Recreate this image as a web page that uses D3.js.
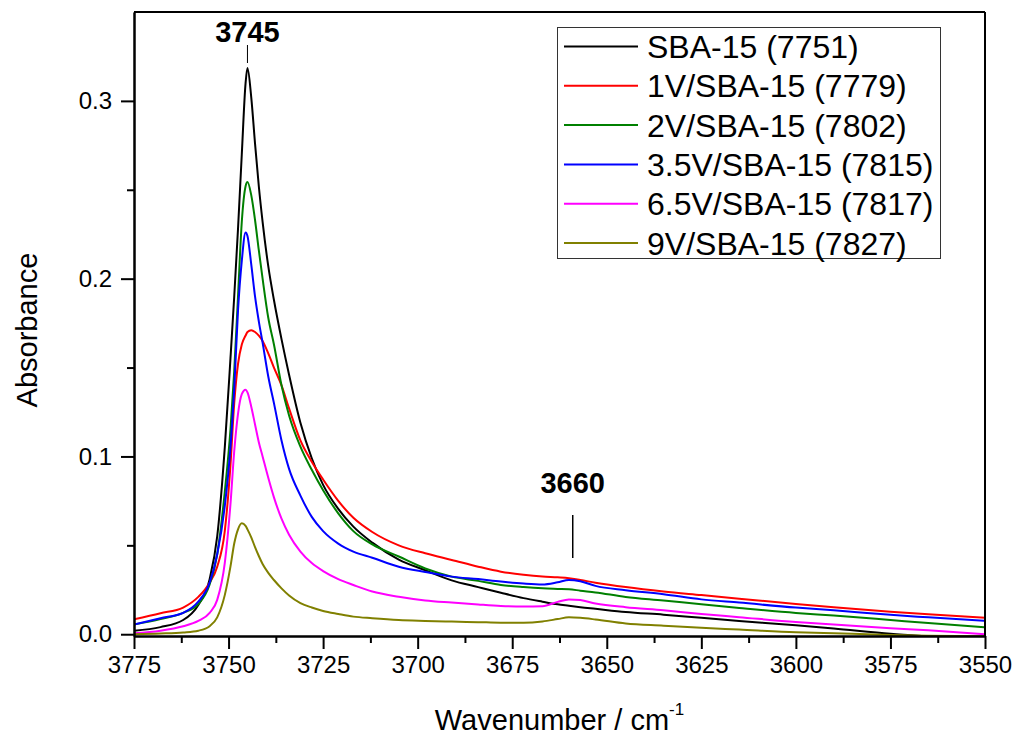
<!DOCTYPE html>
<html>
<head>
<meta charset="utf-8">
<script src="https://cdn.jsdelivr.net/npm/d3@7"></script>
<style>
  body { margin: 0; background: #fff; }
  text { font-family: "Liberation Sans", Arial, sans-serif; }
</style>
</head>
<body>
<div id="node"></div>
<script>
// wavenumber grid (cm-1) shared by every spectrum
const wavenumber = [3775, 3768, 3762, 3758, 3755, 3753, 3751, 3749.5, 3748.5, 3747.5, 3746.5, 3745.5, 3745, 3744, 3743, 3742, 3741, 3739.5, 3738, 3736, 3734, 3731, 3728, 3725, 3721, 3717, 3712, 3705, 3698, 3691, 3684, 3678, 3672, 3667, 3663, 3660, 3657, 3653, 3645, 3635, 3625, 3615, 3600, 3590, 3575, 3565, 3550];

const sba15 = [0.002, 0.004, 0.008, 0.0165, 0.031, 0.055, 0.105, 0.155, 0.19, 0.228, 0.27, 0.31, 0.3185, 0.302, 0.276, 0.252, 0.232, 0.207, 0.188, 0.166, 0.146, 0.119, 0.099, 0.084, 0.0705, 0.0605, 0.0515, 0.042, 0.036, 0.0303, 0.0265, 0.0233, 0.0203, 0.0183, 0.0168, 0.0160, 0.0152, 0.0143, 0.0125, 0.0110, 0.0092, 0.0075, 0.0050, 0.0032, 0.0002, -0.0012, -0.003];
const v1 = [0.0084, 0.0118, 0.015, 0.021, 0.029, 0.038, 0.058, 0.095, 0.13, 0.152, 0.163, 0.168, 0.170, 0.171, 0.170, 0.168, 0.165, 0.158, 0.150, 0.140, 0.127, 0.109, 0.097, 0.087, 0.075, 0.0655, 0.0575, 0.050, 0.0455, 0.0418, 0.038, 0.0352, 0.0335, 0.0325, 0.032, 0.0315, 0.0305, 0.029, 0.0265, 0.024, 0.022, 0.020, 0.017, 0.0152, 0.0127, 0.0112, 0.0092];
const v2 = [0.0055, 0.0085, 0.012, 0.017, 0.028, 0.045, 0.08, 0.115, 0.148, 0.19, 0.232, 0.252, 0.2544, 0.247, 0.233, 0.216, 0.200, 0.178, 0.163, 0.140, 0.123, 0.1055, 0.0925, 0.081, 0.068, 0.058, 0.0505, 0.0437, 0.037, 0.0324, 0.030, 0.0277, 0.0265, 0.0258, 0.0255, 0.0253, 0.0245, 0.0235, 0.021, 0.019, 0.0168, 0.0148, 0.012, 0.0105, 0.008, 0.0063, 0.0039];
const v35 = [0.0055, 0.009, 0.012, 0.0183, 0.029, 0.045, 0.072, 0.105, 0.138, 0.182, 0.21, 0.226, 0.224, 0.208, 0.190, 0.176, 0.164, 0.145, 0.130, 0.109, 0.093, 0.078, 0.066, 0.058, 0.051, 0.0465, 0.043, 0.038, 0.035, 0.0324, 0.031, 0.0296, 0.0285, 0.028, 0.0292, 0.0305, 0.0298, 0.0272, 0.0248, 0.0225, 0.0196, 0.0178, 0.015, 0.0135, 0.0109, 0.0095, 0.0075];
const v65 = [0.0006, 0.002, 0.0045, 0.0075, 0.012, 0.0193, 0.040, 0.073, 0.103, 0.124, 0.135, 0.1375, 0.136, 0.128, 0.118, 0.108, 0.100, 0.088, 0.077, 0.065, 0.056, 0.0465, 0.040, 0.0355, 0.031, 0.0277, 0.024, 0.0211, 0.019, 0.0178, 0.0167, 0.0159, 0.0156, 0.0158, 0.0182, 0.0196, 0.0192, 0.0173, 0.0152, 0.0135, 0.0114, 0.0096, 0.0069, 0.0055, 0.0034, 0.0022, 0.0];
const v9 = [0.0, 0.0004, 0.001, 0.002, 0.0045, 0.0095, 0.022, 0.038, 0.051, 0.059, 0.0624, 0.061, 0.059, 0.0545, 0.049, 0.044, 0.0395, 0.0345, 0.0305, 0.0258, 0.0218, 0.0175, 0.015, 0.0131, 0.0114, 0.0099, 0.009, 0.008, 0.0075, 0.0071, 0.0068, 0.0065, 0.0065, 0.0072, 0.0085, 0.0095, 0.0092, 0.0083, 0.006, 0.0048, 0.0036, 0.0026, 0.0011, 0.0005, -0.0004, -0.0009, -0.0012];

const seriesNames = ["SBA-15 (7751)", "1V/SBA-15 (7779)", "2V/SBA-15 (7802)", "3.5V/SBA-15 (7815)", "6.5V/SBA-15 (7817)", "9V/SBA-15 (7827)"];
const seriesValues = [sba15, v1, v2, v35, v65, v9];
const seriesColors = ["#000000", "#ff0000", "#008000", "#0000ff", "#ff00ff", "#808000"];

const xTicks = [3775, 3750, 3725, 3700, 3675, 3650, 3625, 3600, 3575, 3550];
const xMinor = [3762.5, 3737.5, 3712.5, 3687.5, 3662.5, 3637.5, 3612.5, 3587.5, 3562.5];
const yTicks = [0.0, 0.1, 0.2, 0.3];
const yMinor = [0.05, 0.15, 0.25];

// peak labels: [wavenumber, label]
const peaks = [[3745, "3745"], [3659, "3660"]];

const W = 1017, H = 738;
const margin = { top: 12, right: 32, bottom: 102, left: 134 };
const width = W - margin.left - margin.right;
const height = H - margin.top - margin.bottom;

const svg = d3.select("#node").append("svg")
    .attr("width", W).attr("height", H)
    .append("g")
    .attr("transform", "translate(" + margin.left + "," + margin.top + ")");

const x = d3.scaleLinear().domain([3775, 3550]).range([0, width]);
const y = d3.scaleLinear().domain([-0.001, 0.35]).range([height, 0]);

svg.append("clipPath").attr("id", "plotClip")
    .append("rect").attr("x", 0).attr("y", 0).attr("width", width).attr("height", height);

// spectra
const line = d3.line()
    .x(d => x(d[0]))
    .y(d => y(d[1]))
    .curve(d3.curveMonotoneX);

svg.append("g").attr("clip-path", "url(#plotClip)")
    .selectAll("path")
    .data(seriesValues)
    .enter()
    .append("path")
    .attr("fill", "none")
    .attr("stroke", (d, i) => seriesColors[i])
    .attr("stroke-width", 2)
    .attr("d", vals => line(vals.map((v, i) => [wavenumber[i], v])));

// axes
function styleAxis(g) {
    g.selectAll(".domain").attr("stroke-width", 2);
    g.selectAll(".tick line").attr("stroke-width", 2);
    g.selectAll("text").attr("font-size", 24).attr("fill", "#000")
        .style("font-family", "'Liberation Sans', Arial, sans-serif");
}

svg.append("g")
    .attr("transform", "translate(0," + height + ")")
    .call(d3.axisBottom(x).tickValues(xTicks).tickFormat(d3.format("d")).tickSize(13).tickSizeOuter(0).tickPadding(7))
    .call(styleAxis);
svg.append("g")
    .attr("transform", "translate(0," + height + ")")
    .call(d3.axisBottom(x).tickValues(xMinor).tickFormat("").tickSize(7).tickSizeOuter(0))
    .call(styleAxis);

svg.append("g")
    .call(d3.axisLeft(y).tickValues(yTicks).tickFormat(d3.format(".1f")).tickSize(13).tickSizeOuter(0).tickPadding(9))
    .call(styleAxis);
svg.append("g")
    .call(d3.axisLeft(y).tickValues(yMinor).tickFormat("").tickSize(7).tickSizeOuter(0))
    .call(styleAxis);

// frame top and right
svg.append("line").attr("x1", 0).attr("x2", width).attr("y1", 0).attr("y2", 0)
    .attr("stroke", "#000").attr("stroke-width", 2);
svg.append("line").attr("x1", width).attr("x2", width).attr("y1", 0).attr("y2", height)
    .attr("stroke", "#000").attr("stroke-width", 2);

// axis titles
svg.append("text")
    .attr("text-anchor", "middle")
    .attr("transform", "translate(" + (37 - margin.left) + "," + (330 - margin.top) + ") rotate(-90)")
    .attr("font-size", 29)
    .text("Absorbance");

const xt = svg.append("text")
    .attr("text-anchor", "middle")
    .attr("x", width / 2)
    .attr("y", 730 - margin.top)
    .attr("font-size", 29);
xt.append("tspan").text("Wavenumber / cm");
xt.append("tspan").attr("font-size", 17).attr("dy", -15).text("-1");

// peak annotations
svg.append("text").attr("text-anchor", "middle")
    .attr("x", x(peaks[0][0])).attr("y", 42 - margin.top)
    .attr("font-size", 29).attr("font-weight", "bold").text(peaks[0][1]);
svg.append("line")
    .attr("x1", x(peaks[0][0])).attr("x2", x(peaks[0][0]))
    .attr("y1", 45 - margin.top).attr("y2", 63 - margin.top)
    .attr("stroke", "#000").attr("stroke-width", 1);

svg.append("text").attr("text-anchor", "middle")
    .attr("x", x(peaks[1][0])).attr("y", 493 - margin.top)
    .attr("font-size", 29).attr("font-weight", "bold").text(peaks[1][1]);
svg.append("line")
    .attr("x1", x(peaks[1][0])).attr("x2", x(peaks[1][0]))
    .attr("y1", 515 - margin.top).attr("y2", 558 - margin.top)
    .attr("stroke", "#000").attr("stroke-width", 1.5);

// legend
const legend = svg.append("g").attr("transform", "translate(" + (557 - margin.left) + "," + (27 - margin.top) + ")");
legend.append("rect")
    .attr("x", 0.5).attr("y", 0.5).attr("width", 383).attr("height", 231)
    .attr("fill", "#fff").attr("stroke", "#333").attr("stroke-width", 1);

const rows = legend.selectAll("g.row")
    .data(seriesNames)
    .enter()
    .append("g")
    .attr("class", "row")
    .attr("transform", (d, i) => "translate(0," + (19.5 + i * 39.3) + ")");
rows.append("line")
    .attr("x1", 7).attr("x2", 81).attr("y1", 0).attr("y2", 0)
    .attr("stroke", (d, i) => seriesColors[i]).attr("stroke-width", 2);
rows.append("text")
    .attr("x", 90).attr("y", 11.5)
    .attr("font-size", 32)
    .text(d => d);
</script>
</body>
</html>
